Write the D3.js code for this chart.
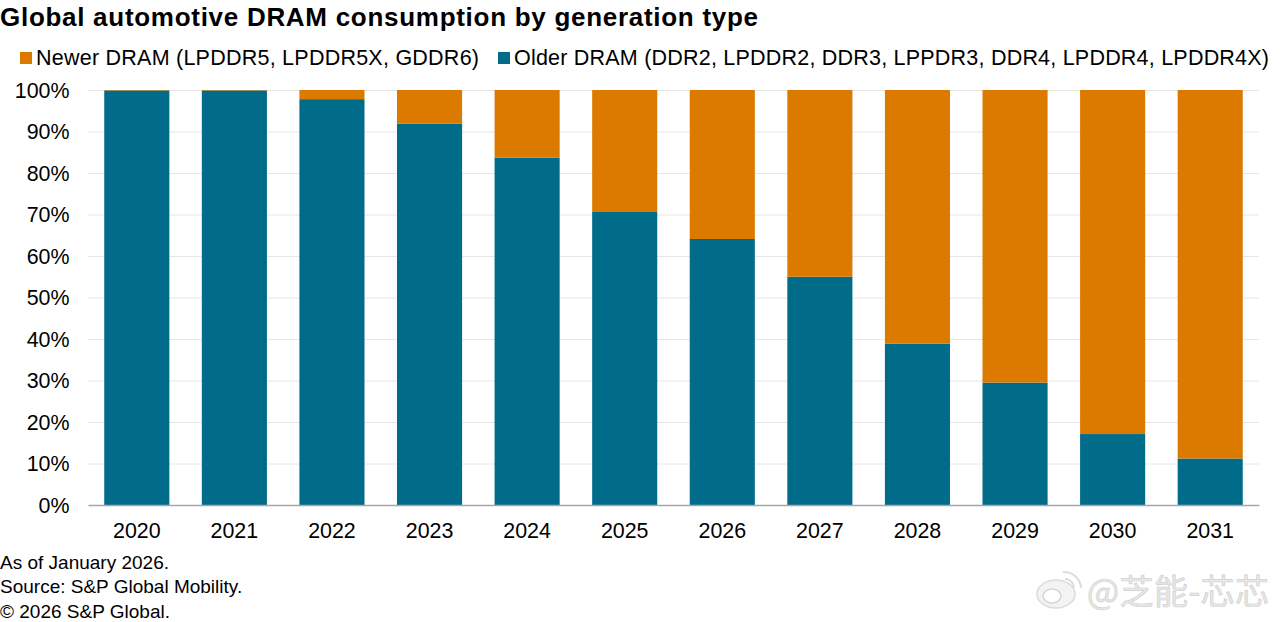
<!DOCTYPE html>
<html><head><meta charset="utf-8">
<script src="https://cdn.jsdelivr.net/npm/d3@7/dist/d3.min.js"></script>
<style>
html,body{margin:0;padding:0;background:#fff}
svg{display:block}
text{font-family:"Liberation Sans",Arial,sans-serif;fill:#000}
</style></head><body>
<div id="chart"></div>
<script>
const years=["2020","2021","2022","2023","2024","2025","2026","2027","2028","2029","2030","2031"];
const olderDram=[99.9,99.9,97.8,91.9,83.7,70.6,64.1,55.0,38.9,29.5,17.1,11.2];
const newerDram=[0.1,0.1,2.2,8.1,16.3,29.4,35.9,45.0,61.1,70.5,82.9,88.8];
const yTicks=[0,10,20,30,40,50,60,70,80,90,100];
const titleText="Global automotive DRAM consumption by generation type";
const legendLabels=["Newer DRAM (LPDDR5, LPDDR5X, GDDR6)","Older DRAM (DDR2, LPDDR2, DDR3, LPPDR3, DDR4, LPDDR4, LPDDR4X)"];
const notes=["As of January 2026.","Source: S&P Global Mobility.","© 2026 S&P Global."];
const watermark="@芝能-芯芯";
const ORANGE="#dc7a00",TEAL="#006c8a";

const svg=d3.select("#chart").append("svg").attr("width",1280).attr("height",622);
const x=d3.scaleBand().domain(years).range([88,1259]).paddingInner(0.333).paddingOuter(0.1665);
const y=d3.scaleLinear().domain([0,100]).range([505,90]);

svg.append("text").attr("x",0).attr("y",26).attr("font-size",26).attr("font-weight","bold").attr("textLength",758).attr("lengthAdjust","spacing").text(titleText);

const lg=[{c:ORANGE,sx:20,tx:36,tl:443},{c:TEAL,sx:498,tx:514,tl:755}];
lg.forEach((d,i)=>{
  svg.append("rect").attr("x",d.sx).attr("y",52).attr("width",12).attr("height",12).attr("fill",d.c);
  svg.append("text").attr("x",d.tx).attr("y",64.5).attr("font-size",21.5).attr("textLength",d.tl).text(legendLabels[i]);
});

const g=svg.append("g");
g.selectAll("line.grid").data(yTicks.filter(t=>t>0)).join("line").attr("class","grid")
 .attr("x1",88).attr("x2",1259).attr("y1",d=>y(d)+.5).attr("y2",d=>y(d)+.5)
 .attr("stroke","#e6e6e6").attr("stroke-width",1);

const axY=svg.append("g").attr("transform","translate(69.5,0)").call(d3.axisLeft(y).tickValues(yTicks).tickFormat(d=>d+"%").tickSize(0).tickPadding(0));
axY.select(".domain").remove();
axY.selectAll("text").attr("font-size",21.4).attr("dy","0.33em").style("font-family",'"Liberation Sans",Arial,sans-serif').attr("fill","#000");

g.selectAll("rect.old").data(years).join("rect").attr("class","old")
 .attr("x",d=>x(d)).attr("width",x.bandwidth())
 .attr("y",(d,i)=>y(olderDram[i])).attr("height",(d,i)=>y(0)-y(olderDram[i])).attr("fill",TEAL);
g.selectAll("rect.new").data(years).join("rect").attr("class","new")
 .attr("x",d=>x(d)).attr("width",x.bandwidth())
 .attr("y",(d,i)=>y(olderDram[i]+newerDram[i])).attr("height",(d,i)=>y(olderDram[i])-y(olderDram[i]+newerDram[i])).attr("fill",ORANGE);

const axX=svg.append("g").attr("transform","translate(0,505)").call(d3.axisBottom(x).tickSize(0).tickPadding(17.5));
axX.select(".domain").attr("stroke","#a6a6a6").attr("stroke-width",1.5);
axX.selectAll("text").attr("font-size",21.4).style("font-family",'"Liberation Sans",Arial,sans-serif').attr("fill","#000");

svg.selectAll("text.note").data(notes).join("text").attr("class","note")
 .attr("x",0).attr("y",(d,i)=>569+i*24.3).attr("font-size",19).text(d=>d);

const wm=svg.append("g");
wm.append("text").attr("x",1087).attr("y",604).attr("font-size",34)
 .style("font-family",'"Noto Sans CJK SC"').style("fill","#e8e8e8")
 .attr("stroke","#d0d0d0").attr("stroke-width",.7).attr("textLength",182).text(watermark);
wm.append("ellipse").attr("cx",1056).attr("cy",594).attr("rx",19).attr("ry",14).attr("fill","#f3f3f3").attr("stroke","#dcdcdc").attr("stroke-width",1.5);
wm.append("ellipse").attr("cx",1052).attr("cy",596).attr("rx",9).attr("ry",7).attr("fill","#fff").attr("stroke","#d5d5d5").attr("stroke-width",1.5);
wm.append("path").attr("d","M1063 572 A 17 17 0 0 1 1081 588").attr("fill","none").attr("stroke","#dcdcdc").attr("stroke-width",2);
wm.append("path").attr("d","M1065 579 A 9 9 0 0 1 1074 588").attr("fill","none").attr("stroke","#dcdcdc").attr("stroke-width",2);
</script>
</body></html>
